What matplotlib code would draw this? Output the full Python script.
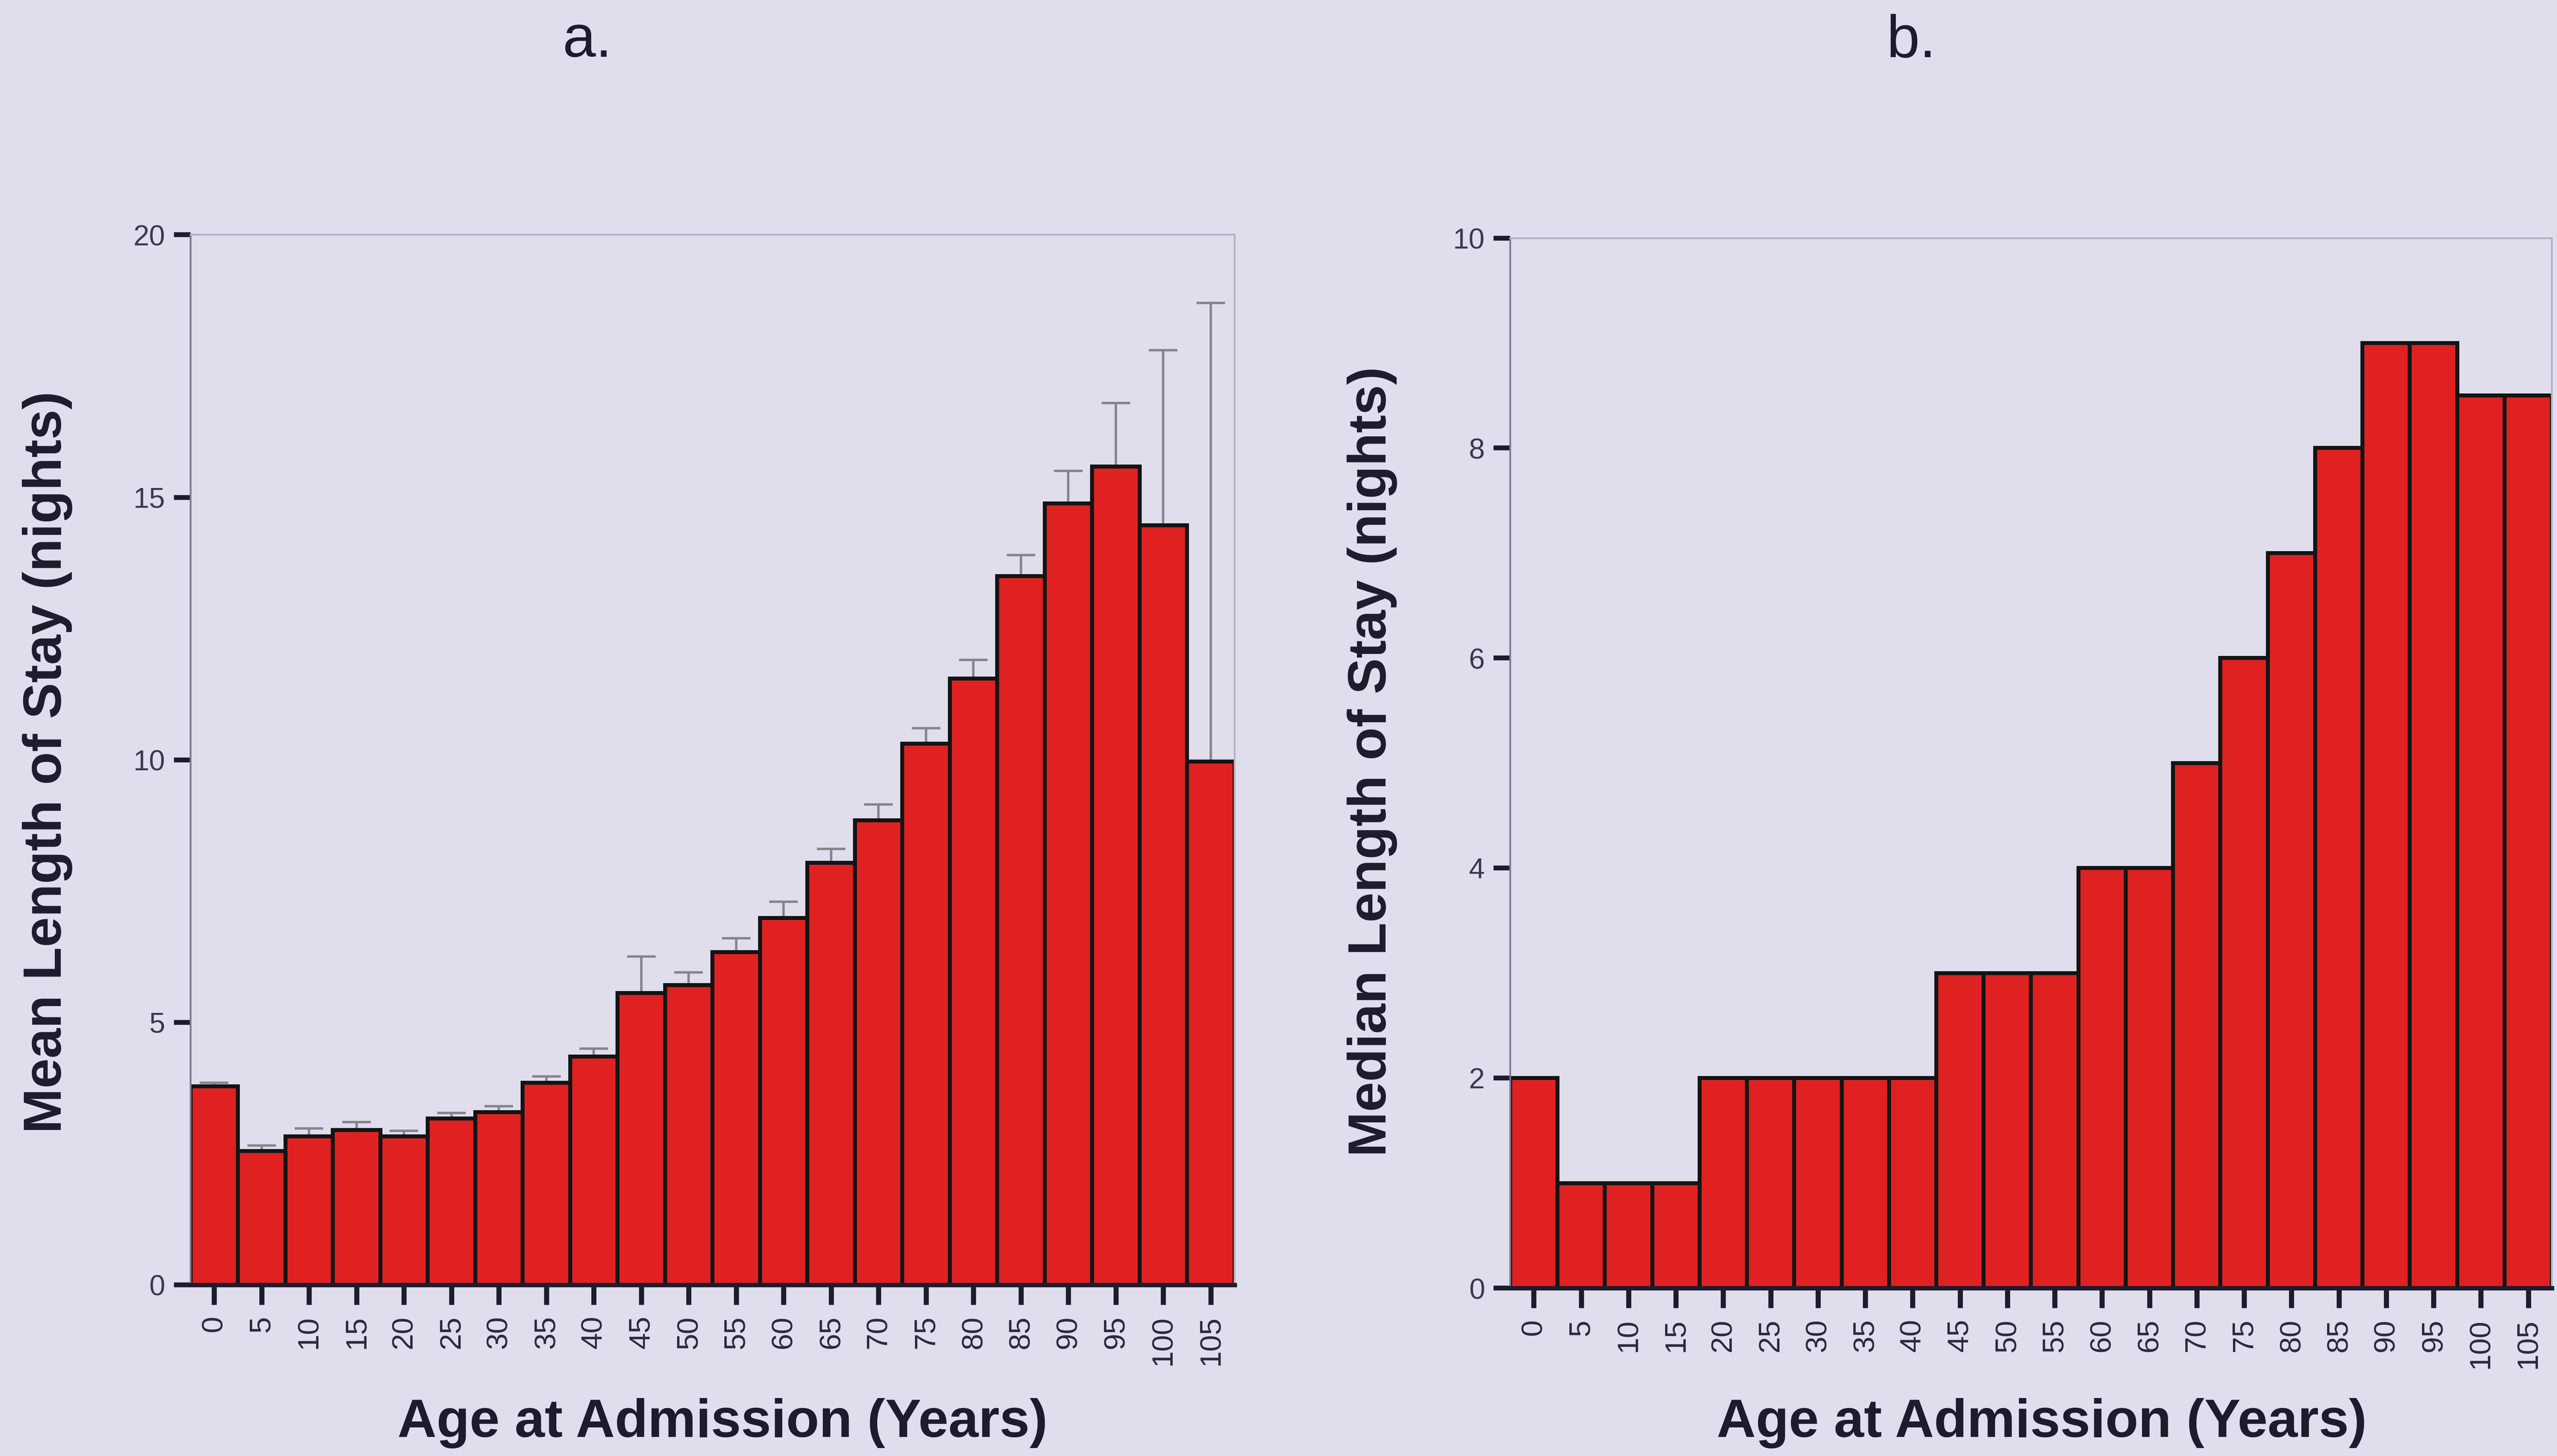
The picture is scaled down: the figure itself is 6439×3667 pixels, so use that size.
import numpy as np
import matplotlib
matplotlib.use("Agg")
import matplotlib.pyplot as plt

plt.rcParams['font.family'] = ['Liberation Sans', 'DejaVu Sans']

# age groups (years at admission)
ages = [0, 5, 10, 15, 20, 25, 30, 35, 40, 45, 50, 55, 60, 65, 70, 75, 80, 85, 90, 95, 100, 105]

# a. mean length of stay and upper end of error bar
mean_los = [3.78, 2.55, 2.83, 2.95, 2.83, 3.17, 3.29, 3.85, 4.35, 5.56, 5.71, 6.34,
            6.99, 8.04, 8.85, 10.31, 11.55, 13.5, 14.88, 15.59, 14.47, 9.97]
mean_upper = [3.85, 2.65, 2.98, 3.1, 2.93, 3.27, 3.4, 3.97, 4.5, 6.25, 5.95, 6.6,
              7.3, 8.3, 9.15, 10.6, 11.9, 13.9, 15.5, 16.8, 17.8, 18.7]

# b. median length of stay
median_los = [2, 1, 1, 1, 2, 2, 2, 2, 2, 3, 3, 3, 4, 4, 5, 6, 7, 8, 9, 9, 8.5, 8.5]

bg = '#E0DDEC'
bar_red = '#DF2121'
dark = '#1c1c2e'

fig = plt.figure(figsize=(6439 / 400, 3667 / 400), dpi=400, facecolor=bg)
ax1 = fig.add_axes([0.0745, 0.1176, 0.4083, 0.7211])
ax2 = fig.add_axes([0.5906, 0.1153, 0.4074, 0.7212])

x = np.arange(len(ages))


def style(ax, ymax, yticks):
    ax.set_facecolor(bg)
    ax.set_xlim(-0.5, len(ages) - 0.5)
    ax.set_ylim(0, ymax)
    ax.set_yticks(yticks)
    ax.set_xticks(x)
    ax.set_xticklabels([str(a) for a in ages], rotation=90)
    ax.tick_params(axis='y', direction='out', length=7.5, width=2.2, color=dark,
                   labelsize=13, labelcolor='#3a3a4c', pad=4)
    ax.tick_params(axis='x', direction='out', length=9, width=2.3, color=dark,
                   labelsize=13.5, labelcolor='#2a2a3c', pad=5)
    for s in ['top', 'right']:
        ax.spines[s].set_color('#b4b2c2')
        ax.spines[s].set_linewidth(0.8)
    ax.spines['left'].set_color('#7c7a8c')
    ax.spines['left'].set_linewidth(0.8)
    ax.spines['bottom'].set_color(dark)
    ax.spines['bottom'].set_linewidth(2)


style(ax1, 20, [0, 5, 10, 15, 20])
err_up = np.array(mean_upper) - np.array(mean_los)
ax1.errorbar(x, mean_los, yerr=[np.zeros(len(x)), err_up], fmt='none',
             ecolor='#858590', elinewidth=1.1, capsize=6.5, capthick=1.1, zorder=1)
ax1.bar(x, mean_los, width=1.0, color=bar_red, edgecolor='#141414', linewidth=1.8, zorder=2)

style(ax2, 10, [0, 2, 4, 6, 8, 10])
ax2.bar(x, median_los, width=1.0, color=bar_red, edgecolor='#141414', linewidth=1.8, zorder=2)

fig.text(0.2298, 0.961, 'a.', fontsize=27, color=dark, ha='center', va='baseline')
fig.text(0.7475, 0.961, 'b.', fontsize=27, color=dark, ha='center', va='baseline')

fig.text(0.0186, 0.4765, 'Mean Length of Stay (nights)', rotation=90, fontsize=24.5,
         fontweight='bold', color=dark, ha='center', va='center')
fig.text(0.5366, 0.477, 'Median Length of Stay (nights)', rotation=90, fontsize=24.5,
         fontweight='bold', color=dark, ha='center', va='center')

fig.text(0.2825, 0.0131, 'Age at Admission (Years)', fontsize=24.5, fontweight='bold',
         color=dark, ha='center', va='baseline')
fig.text(0.7985, 0.0131, 'Age at Admission (Years)', fontsize=24.5, fontweight='bold',
         color=dark, ha='center', va='baseline')

fig.savefig('out.png', dpi=400, facecolor=bg)
